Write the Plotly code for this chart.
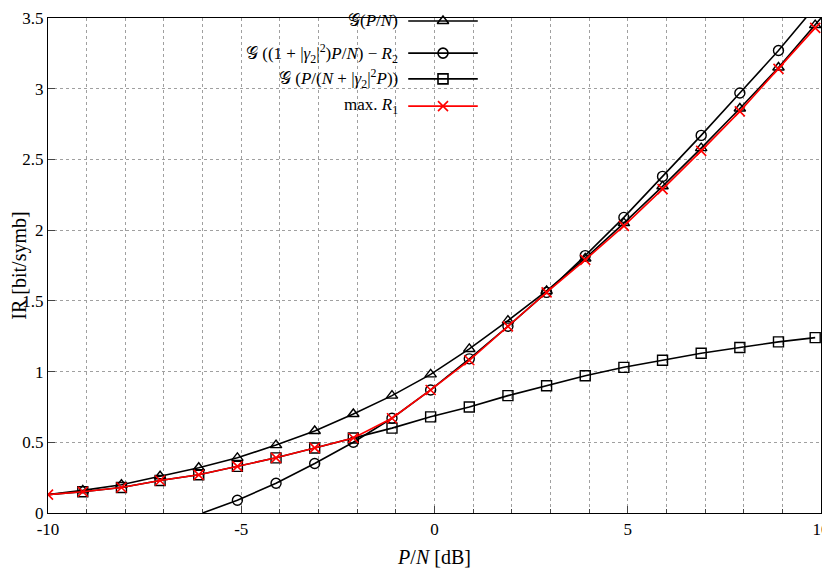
import plotly.graph_objects as go

x_pts = [-9.1, -8.1, -7.1, -6.1, -5.1, -4.1, -3.1, -2.1, -1.1, -0.1,
         0.9, 1.9, 2.9, 3.9, 4.9, 5.9, 6.9, 7.9, 8.9, 9.85]

g_pn = [0.16, 0.20, 0.26, 0.32, 0.39, 0.48, 0.58, 0.70, 0.83, 0.98,
        1.16, 1.36, 1.57, 1.80, 2.05, 2.31, 2.58, 2.86, 3.15, 3.45]
g_pn_line_x = [-10] + x_pts + [10]
g_pn_line_y = [0.13] + g_pn + [3.5]

circ_x = x_pts[4:]
circ = [0.09, 0.21, 0.35, 0.50, 0.67, 0.87, 1.09, 1.32, 1.56, 1.82,
        2.09, 2.38, 2.67, 2.97, 3.27, 3.58]
circ_line_x = [-6.0] + circ_x
circ_line_y = [0.0] + circ

sq = [0.15, 0.18, 0.23, 0.27, 0.33, 0.39, 0.46, 0.53, 0.60, 0.68,
      0.75, 0.83, 0.90, 0.97, 1.03, 1.08, 1.13, 1.17, 1.21, 1.24]

r1 = [0.15, 0.18, 0.23, 0.27, 0.33, 0.39, 0.46, 0.53, 0.67, 0.87,
      1.08, 1.32, 1.56, 1.79, 2.03, 2.29, 2.56, 2.84, 3.14, 3.43]

labels = ["𝒢(<i>P</i>/<i>N</i>)",
          "𝒢 ((1 + |<i>γ</i><sub>2</sub>|<sup>2</sup>)<i>P</i>/<i>N</i>) − <i>R</i><sub>2</sub>",
          "𝒢 (<i>P</i>/(<i>N</i> + |<i>γ</i><sub>2</sub>|<sup>2</sup><i>P</i>))",
          "max. <i>R</i><sub>1</sub>"]

font = "Liberation Serif"
red = "#ff0000"
fig = go.Figure()
mk = dict(size=10, line=dict(width=1.4))

fig.add_trace(go.Scatter(x=g_pn_line_x, y=g_pn_line_y, mode="lines",
                         line=dict(color="black", width=1.6), showlegend=False))
fig.add_trace(go.Scatter(x=x_pts, y=g_pn, mode="markers", showlegend=False,
                         marker=dict(symbol="triangle-up-open", color="black", **mk)))
fig.add_trace(go.Scatter(x=circ_line_x, y=circ_line_y, mode="lines",
                         line=dict(color="black", width=1.6), showlegend=False))
fig.add_trace(go.Scatter(x=circ_x, y=circ, mode="markers", showlegend=False,
                         marker=dict(symbol="circle-open", color="black", **mk)))
fig.add_trace(go.Scatter(x=[-10] + x_pts, y=[0.13] + sq, mode="lines",
                         line=dict(color="black", width=1.6), showlegend=False))
fig.add_trace(go.Scatter(x=x_pts, y=sq, mode="markers", showlegend=False,
                         marker=dict(symbol="square-open", color="black", **mk)))
fig.add_trace(go.Scatter(x=[-10] + x_pts, y=[0.13] + r1, mode="lines+markers",
                         line=dict(color=red, width=1.6), showlegend=False,
                         marker=dict(symbol="x-thin-open", color=red, size=10,
                                     line=dict(width=1.6, color=red))))

# legend drawn by hand, gnuplot style (text left of sample)
symbols = ["triangle-up-open", "circle-open", "square-open", "x-thin-open"]
colors = ["black", "black", "black", red]
ys = [0.994, 0.929, 0.877, 0.822]
for lab, sym, c, yy in zip(labels, symbols, colors, ys):
    fig.add_annotation(xref="paper", yref="paper", x=0.455, y=yy, text=lab,
                       showarrow=False, xanchor="right", yanchor="middle",
                       font=dict(family=font, size=17, color="black"))
    fig.add_shape(type="line", xref="paper", yref="paper", x0=0.466, x1=0.556,
                  y0=yy, y1=yy, line=dict(color=c, width=1.6))
    fig.add_trace(go.Scatter(x=[0.511], y=[yy], xaxis="x2", yaxis="y2",
                             mode="markers", showlegend=False, cliponaxis=False,
                             marker=dict(symbol=sym, color=c, size=10,
                                         line=dict(width=1.6, color=c))))

grid = dict(showgrid=True, gridcolor="#a0a0a0", griddash="dot", gridwidth=1)
fig.update_layout(
    width=830, height=582, plot_bgcolor="white", paper_bgcolor="white",
    margin=dict(l=40, r=17, t=10, b=77),
    font=dict(family=font, size=17, color="black"),
    xaxis=dict(range=[-10, 10], automargin=False, zeroline=False, showline=True,
               mirror=True, linecolor="black", linewidth=1.2, ticks="inside",
               ticklen=7, tickvals=[-10, -5, 0, 5, 10],
               ticktext=["-10", "-5", "0", "5", "10"], showgrid=False,
               title=dict(text="<i>P</i>/<i>N</i> [dB]", standoff=12),
               minor=dict(dtick=1, ticks="inside", ticklen=4, **grid)),
    yaxis=dict(range=[0, 3.5], dtick=0.5, automargin=False, zeroline=False,
               showline=True, mirror=True, linecolor="black", linewidth=1.2,
               ticks="inside", ticklen=7, title=dict(text="IR [bit/symb]", standoff=3),
               **grid),
    xaxis2=dict(overlaying="x", range=[0, 1], visible=False),
    yaxis2=dict(overlaying="y", range=[0, 1], visible=False),
)
fig.write_html("out.html")
